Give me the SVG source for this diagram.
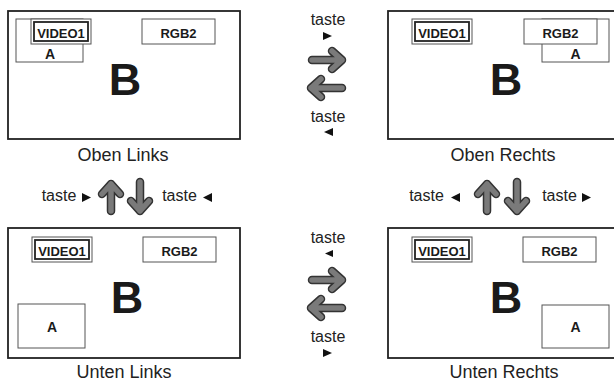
<svg xmlns="http://www.w3.org/2000/svg" width="614" height="383" viewBox="0 0 614 383">
<style>
.panel{fill:#fff;stroke:#222;stroke-width:1.8}
.box{fill:#fff;stroke:#555;stroke-width:1}
.thick{fill:none;stroke:#222;stroke-width:1.8}
.lbl{font-family:"Liberation Sans",Arial,sans-serif;font-weight:bold;fill:#1a1a1a;text-anchor:middle}
.s{font-size:13px}
.a{font-size:14px}
.b{font-size:45px}
.cap{font-family:"Liberation Sans",Arial,sans-serif;font-size:18px;fill:#222;text-anchor:middle}
.t{font-family:"Liberation Sans",Arial,sans-serif;font-size:16px;fill:#222;text-anchor:middle}
.tri{fill:#111}
.ao{fill:none;stroke:#333;stroke-width:8.5;stroke-linecap:round;stroke-linejoin:round}
.ai{fill:none;stroke:#7a7a7a;stroke-width:5.5;stroke-linecap:round;stroke-linejoin:round}
</style>
<defs>
<g id="v1">
<rect class="box" x="0" y="0" width="60" height="25"/>
<rect class="thick" x="3" y="3" width="54" height="19"/>
<text class="lbl s" x="30" y="18.5">VIDEO1</text>
</g>
<g id="rgb">
<rect class="box" x="0" y="0" width="73" height="25"/>
<text class="lbl s" x="36.5" y="18.5">RGB2</text>
</g>
</defs>

<g id="oben-links">
<rect class="panel" x="8" y="11" width="232" height="128"/>
<rect class="box" x="16" y="19" width="67" height="43"/>
<text class="lbl a" x="50" y="59">A</text>
<use href="#v1" x="31" y="19"/>
<use href="#rgb" x="142" y="19"/>
<text class="lbl b" x="125" y="95">B</text>
<text class="cap" x="123" y="161">Oben Links</text>
</g>

<g id="oben-rechts">
<rect class="panel" x="388" y="11" width="232" height="128"/>
<use href="#v1" x="412" y="19"/>
<rect class="box" x="542" y="19" width="67" height="43"/>
<text class="lbl a" x="575.5" y="59">A</text>
<use href="#rgb" x="524" y="19"/>
<text class="lbl b" x="506" y="95">B</text>
<text class="cap" x="503" y="161">Oben Rechts</text>
</g>

<g id="unten-links">
<rect class="panel" x="8" y="228" width="232" height="130"/>
<use href="#v1" x="32" y="237"/>
<use href="#rgb" x="143" y="237"/>
<rect class="box" x="18" y="304" width="67" height="44"/>
<text class="lbl a" x="52" y="332">A</text>
<text class="lbl b" x="127" y="313">B</text>
<text class="cap" x="124" y="378">Unten Links</text>
</g>

<g id="unten-rechts">
<rect class="panel" x="388" y="228" width="232" height="130"/>
<use href="#v1" x="412" y="237"/>
<use href="#rgb" x="523" y="237"/>
<rect class="box" x="542" y="305" width="67" height="43"/>
<text class="lbl a" x="575.5" y="332">A</text>
<text class="lbl b" x="506" y="313">B</text>
<text class="cap" x="504" y="378">Unten Rechts</text>
</g>

<g id="connectors">
<!-- top middle -->
<path class="ao" d="M312 60 H342 M332 51 L342 60 L332 69"/>
<path class="ai" d="M312 60 H342 M332 51 L342 60 L332 69"/>
<path class="ao" d="M342 88 H311 M321 79 L311 88 L321 97"/>
<path class="ai" d="M342 88 H311 M321 79 L311 88 L321 97"/>
<text class="t" x="328" y="25">taste</text>
<polygon class="tri" points="323,32 332,36 323,40"/>
<text class="t" x="328" y="122">taste</text>
<polygon class="tri" points="333,128 324,132 333,136"/>

<!-- bottom middle -->
<path class="ao" d="M312 280 H342 M332 271 L342 280 L332 289"/>
<path class="ai" d="M312 280 H342 M332 271 L342 280 L332 289"/>
<path class="ao" d="M342 308 H311 M321 299 L311 308 L321 317"/>
<path class="ai" d="M342 308 H311 M321 299 L311 308 L321 317"/>
<text class="t" x="328" y="243">taste</text>
<polygon class="tri" points="333,250 325,253.5 333,257"/>
<text class="t" x="328" y="342">taste</text>
<polygon class="tri" points="323,349 332,353 323,357"/>

<!-- left vertical -->
<path class="ao" d="M111 211 V184 M102 194 L111 184 L120 194"/>
<path class="ai" d="M111 211 V184 M102 194 L111 184 L120 194"/>
<path class="ao" d="M140 182 V211 M131 201 L140 211 L149 201"/>
<path class="ai" d="M140 182 V211 M131 201 L140 211 L149 201"/>
<text class="t" x="59" y="201">taste</text>
<polygon class="tri" points="82,193 91,197.5 82,202"/>
<text class="t" x="179.5" y="201">taste</text>
<polygon class="tri" points="212,193 203,197.5 212,202"/>

<!-- right vertical -->
<path class="ao" d="M487 211 V184 M478 194 L487 184 L496 194"/>
<path class="ai" d="M487 211 V184 M478 194 L487 184 L496 194"/>
<path class="ao" d="M517 182 V211 M508 201 L517 211 L526 201"/>
<path class="ai" d="M517 182 V211 M508 201 L517 211 L526 201"/>
<text class="t" x="426.5" y="201">taste</text>
<polygon class="tri" points="460,193 451,197.5 460,202"/>
<text class="t" x="559.5" y="201">taste</text>
<polygon class="tri" points="582,193 591,197.5 582,202"/>
</g>
</svg>
